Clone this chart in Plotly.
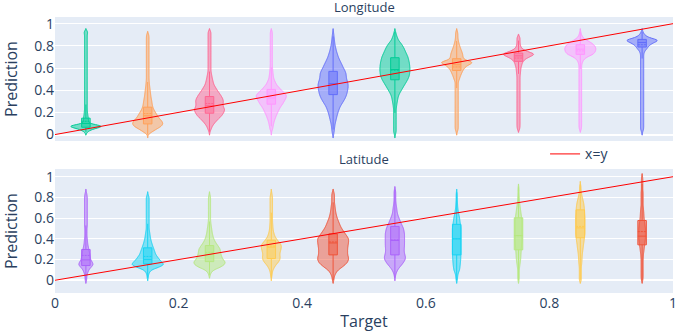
import numpy as np
import plotly.graph_objects as go
from plotly.subplots import make_subplots

# ---------------- data ----------------
TARGETS = [0.05, 0.15, 0.25, 0.35, 0.45, 0.55, 0.65, 0.75, 0.85, 0.95]

# prediction levels (histogram bins) used to describe each distribution
LEVELS = [0.0, 0.025, 0.05, 0.075, 0.1, 0.125, 0.15, 0.175, 0.2, 0.225,
          0.25, 0.275, 0.3, 0.325, 0.35, 0.375, 0.4, 0.425, 0.45, 0.475,
          0.5, 0.525, 0.55, 0.575, 0.6, 0.625, 0.65, 0.675, 0.7, 0.725,
          0.75, 0.775, 0.8, 0.825, 0.85, 0.875, 0.9, 0.925, 0.95, 0.975, 1.0]

# sample counts per level, one list per target bin (Longitude)
LON_COUNTS = [
    [0, 10, 50, 150, 15, 20, 18, 14, 12] + [10] * 28 + [15, 0, 0, 0],
    [3, 40, 80, 125, 140, 125, 100, 85, 70, 55, 45, 40, 37, 32, 28, 25, 22, 19, 16, 14] + [12] * 16 + [10, 0, 0, 0, 0],
    [0, 5, 15, 25, 43, 65, 90, 115, 130, 140, 125, 122, 127, 120, 105, 88, 70, 55, 40, 33, 27, 22, 17, 13] + [13] * 14 + [0, 0, 0],
    [0, 3, 13, 18, 23, 30, 40, 50, 63, 75, 90, 110, 125, 140, 150, 130, 97, 75, 50, 38, 25, 20, 17, 14, 12] + [10] * 13 + [0, 0, 0],
    [5, 10, 13, 16, 20, 27, 33, 40, 47, 57, 67, 83, 100, 115, 127, 135, 140, 145, 145, 140,
     130, 127, 125, 115, 100, 88, 75, 62, 50, 42, 33, 27, 20, 16, 13, 10, 7, 4, 0, 0, 0],
    [5] + [13] * 9 + [16, 20, 25, 30, 37, 50, 67, 83, 100, 117, 133, 145, 150, 153, 153, 150, 147, 140, 133, 120,
                      107, 95, 80, 60, 37, 25, 15, 8, 0, 0, 0],
    [0, 5] + [13] * 18 + [23, 30, 40, 50, 65, 90, 150, 60, 52, 50, 42, 33, 25, 18, 13, 10, 10, 8, 0, 0, 0],
    [0, 0, 10] + [13] * 19 + [16, 18, 20, 27, 33, 50, 90, 150, 70, 27, 17, 13, 13, 13] + [0] * 5,
    [0, 0, 10] + [13] * 23 + [20, 33, 67, 133, 150, 156, 145, 115, 65, 25, 12, 5, 0, 0, 0],
    [0, 5] + [13] * 28 + [20, 40, 55, 85, 150, 50, 20, 8, 0, 0, 0],
]

# sample counts per level, one list per target bin (Latitude)
LAT_COUNTS = [
    [7, 8, 10, 18, 27, 47, 70, 60, 43, 40, 37, 32, 27, 22, 17, 15, 13, 10, 10, 10, 10] + [13] * 12 + [10, 5] + [0] * 6,
    [0, 5, 7, 15, 33, 100, 153, 130, 107, 90, 73, 65, 57, 48, 40, 33, 27, 23, 20, 16, 13] + [13] * 12 + [5] + [0] * 7,
    [0, 0, 7, 15, 40, 100, 140, 150, 127, 115, 107, 103, 100, 85, 67, 52, 40, 33, 27, 23, 20, 16, 13] + [10] * 10 + [5] + [0] * 7,
    [0, 3, 7, 10, 17, 30, 47, 70, 85, 87, 83, 88, 95, 100, 93, 70, 50, 35, 27, 20, 17, 15, 13] + [12] * 10 + [8, 4] + [0] * 6,
    [7, 10, 17, 30, 50, 85, 117, 140, 150, 148, 140, 140, 140, 143, 147, 150, 150, 135, 117, 100,
     83, 70, 60, 50, 40, 33, 27, 23, 20, 17, 13, 13, 13, 13, 8] + [0] * 6,
    [0, 3, 7, 15, 27, 45, 67, 85, 100, 103, 95, 90, 90, 92, 93, 93, 93, 93, 93, 88,
     83, 72, 60, 50, 40, 30, 23, 20, 17, 13, 10, 8, 8, 8, 8, 5] + [0] * 5,
    [5, 8, 10, 17, 27, 30, 33, 35, 37, 38] + [40] * 11 + [38, 33, 30, 27, 22, 17, 13, 10, 8, 7, 5, 5, 5, 3] + [0] * 6,
    [5, 7, 7, 7, 7, 10, 13, 17, 20, 22, 23, 25, 27, 28, 30, 32] + [33] * 7 + [32, 30, 27, 23, 20, 17, 13, 10, 8, 7, 5, 5, 5, 3] + [0] * 4,
    [10] * 6 + [13, 15, 17, 18, 20, 23, 27, 30, 33, 37, 40, 43] + [47] * 7 + [45, 43, 42, 40, 37, 33, 27, 20, 15, 10, 7, 7, 3] + [0] * 3,
    [7] + [10] * 8 + [12, 13, 17, 20, 23, 27, 30] + [33] * 5 + [30, 27, 23, 20, 18, 17, 15, 13] + [10] * 6 + [7] * 5 + [5],
]

# inner box statistics
LON_Q1 = [0.066, 0.096, 0.193, 0.274, 0.36, 0.494, 0.578, 0.66, 0.723, 0.789]
LON_MEDIAN = [0.10, 0.17, 0.26, 0.33, 0.46, 0.587, 0.63, 0.71, 0.77, 0.83]
LON_Q3 = [0.148, 0.247, 0.343, 0.407, 0.57, 0.693, 0.684, 0.735, 0.81, 0.858]
LON_MEAN = [0.12, 0.19, 0.28, 0.35, 0.46, 0.58, 0.61, 0.69, 0.755, 0.81]

LAT_Q1 = [0.142, 0.158, 0.18, 0.21, 0.245, 0.245, 0.245, 0.294, 0.41, 0.342]
LAT_MEDIAN = [0.197, 0.20, 0.25, 0.32, 0.36, 0.384, 0.40, 0.432, 0.506, 0.426]
LAT_Q3 = [0.297, 0.313, 0.335, 0.387, 0.448, 0.52, 0.54, 0.603, 0.68, 0.577]
LAT_MEAN = [0.24, 0.23, 0.27, 0.33, 0.37, 0.39, 0.40, 0.43, 0.52, 0.47]

LINE_X = [0, 1]
LINE_Y = [0, 1]

# ---------------- style ----------------
LON_COLORS = ['#00cc96', '#FFA15A', '#FF6692', '#FF97FF', '#636efa',
              '#00cc96', '#FFA15A', '#FF6692', '#FF97FF', '#636efa']
LAT_COLORS = ['#ab63fa', '#19d3f3', '#B6E880', '#FECB52', '#EF553B',
              '#ab63fa', '#19d3f3', '#B6E880', '#FECB52', '#EF553B']
PLOT_W_PX = 618.0
LON_WIDTH_PX = [30, 30, 30, 30, 30, 30, 30, 30, 31, 30]
LAT_WIDTH_PX = [14, 31, 31, 20, 31, 21, 8.6, 7, 9.4, 6.6]
BOX_W_PX = 8.5
BANDWIDTH = 0.015


def rgba(hex_color, a):
    h = hex_color.lstrip('#')
    r, g, b = int(h[0:2], 16), int(h[2:4], 16), int(h[4:6], 16)
    return f'rgba({r},{g},{b},{a})'


fig = make_subplots(rows=2, cols=1, shared_xaxes=True, vertical_spacing=0.1014,
                    subplot_titles=("Longitude", "Latitude"))


def add_row(row, counts, colors, widths_px, q1s, meds, q3s, means):
    levels = np.array(LEVELS)
    for i, t in enumerate(TARGETS):
        c = np.array(counts[i])
        samples = np.repeat(levels, c)
        col = colors[i]
        fig.add_trace(go.Violin(
            x0=t, y=samples, width=widths_px[i] / PLOT_W_PX,
            bandwidth=BANDWIDTH, points=False, spanmode='soft',
            line=dict(color=col, width=1), fillcolor=rgba(col, 0.5),
            box_visible=False, meanline_visible=False,
            hoverinfo='skip', showlegend=False, name=f'{t}'), row=row, col=1)
        nz = levels[c > 0]
        iqr = q3s[i] - q1s[i]
        lf = max(q1s[i] - 1.5 * iqr, nz.min())
        uf = min(q3s[i] + 1.5 * iqr, nz.max())
        fig.add_trace(go.Box(
            x=[t], q1=[q1s[i]], median=[meds[i]], q3=[q3s[i]], mean=[means[i]],
            lowerfence=[lf], upperfence=[uf], boxmean=True,
            width=BOX_W_PX / PLOT_W_PX, whiskerwidth=0, boxpoints=False,
            line=dict(color=col, width=1), fillcolor=rgba(col, 0.5),
            hoverinfo='skip', showlegend=False), row=row, col=1)


add_row(1, LON_COUNTS, LON_COLORS, LON_WIDTH_PX, LON_Q1, LON_MEDIAN, LON_Q3, LON_MEAN)
add_row(2, LAT_COUNTS, LAT_COLORS, LAT_WIDTH_PX, LAT_Q1, LAT_MEDIAN, LAT_Q3, LAT_MEAN)

fig.add_trace(go.Scatter(x=LINE_X, y=LINE_Y, mode='lines', name='x=y',
                         line=dict(color='red', width=1), showlegend=True), row=1, col=1)
fig.add_trace(go.Scatter(x=LINE_X, y=LINE_Y, mode='lines', name='x=y',
                         line=dict(color='red', width=1), showlegend=False), row=2, col=1)

fig.update_layout(
    width=695, height=335, template='plotly',
    margin=dict(l=55, r=22, t=17, b=42, autoexpand=False),
    font=dict(size=14),
    violinmode='overlay', boxmode='overlay',
    legend=dict(x=0.793, y=0.5025, xanchor='left', yanchor='middle',
                bgcolor='rgba(0,0,0,0)', font=dict(size=14)),
)
fig.update_annotations(font_size=13, yshift=-1)
fig.update_xaxes(range=[0, 1], showgrid=False, zeroline=False, dtick=0.2, automargin=False)
fig.update_xaxes(title_text='Target', title_font_size=16, title_standoff=4, row=2, col=1)
fig.update_yaxes(title_text='Prediction', title_font_size=16, dtick=0.2, automargin=False)
fig.update_yaxes(range=[-0.058, 1.06], row=1, col=1)
fig.update_yaxes(range=[-0.123, 1.0745], row=2, col=1)

fig.write_html("out.html", config={"displayModeBar": False},
               post_script="document.body.style.margin='0';document.body.style.padding='0';")
